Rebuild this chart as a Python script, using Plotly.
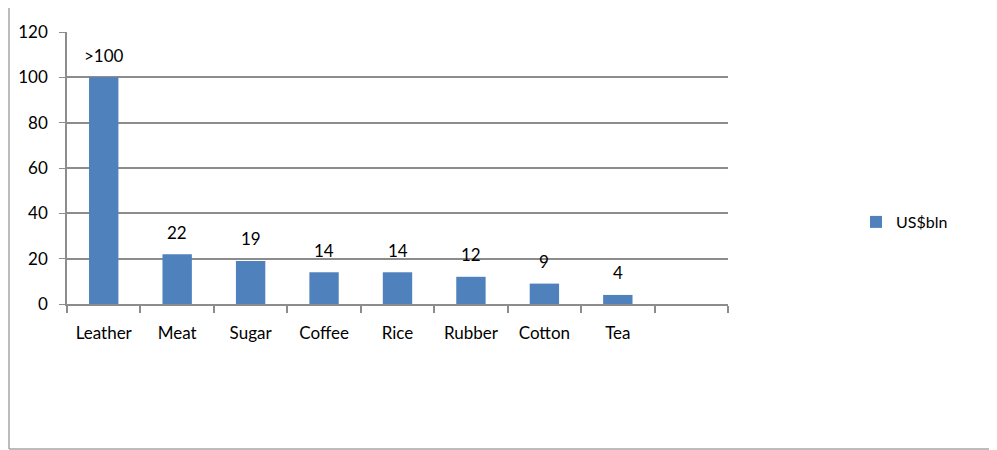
import plotly.graph_objects as go

categories = ["Leather", "Meat", "Sugar", "Coffee", "Rice", "Rubber", "Cotton", "Tea", " "]
values = [100, 22, 19, 14, 14, 12, 9, 4, None]
labels = [">100", "22", "19", "14", "14", "12", "9", "4", ""]
series_name = "US$bln"

FONT = "Lato"
FS = 17
OFF = 8  # page body margin
W, H = 997 - OFF, 450 - OFF
L, T = 67 - OFF, 32 - OFF
PR, PB = 728 - OFF, 304 - OFF  # plot right / bottom in figure px
R, B = W - PR, H - PB
pw, ph = PR - L, PB - T

def px(x):
    return (x - OFF - L) / pw

def py(y):
    return (PB - (y - OFF)) / ph

fig = go.Figure()
fig.add_trace(go.Bar(
    x=categories, y=values, name=series_name,
    marker=dict(color="#4F81BD", line=dict(width=0)),
    width=0.4, showlegend=True,
))

for c, v, t in zip(categories, values, labels):
    if v is None or not t:
        continue
    fig.add_annotation(x=c, y=v, text=t, showarrow=False, yanchor="middle",
                       yshift=22, font=dict(family=FONT, size=FS, color="#000000"))

border = "#a6a6a6"
fig.add_shape(type="line", xref="paper", yref="paper", x0=px(9), x1=px(1100), y0=py(3), y1=py(3),
              line=dict(color=border, width=1.5))
fig.add_shape(type="line", xref="paper", yref="paper", x0=px(9), x1=px(9), y0=py(3), y1=py(449),
              line=dict(color=border, width=1.5))
fig.add_shape(type="line", xref="paper", yref="paper", x0=px(9), x1=px(1100), y0=py(449), y1=py(449),
              line=dict(color=border, width=1.5))

fig.update_layout(
    width=W, height=H,
    margin=dict(l=L, r=R, t=T, b=B, autoexpand=False),
    paper_bgcolor="white", plot_bgcolor="white",
    font=dict(family=FONT, size=FS, color="#000000"),
    bargap=0.6,
    legend=dict(x=px(856), y=py(222), xanchor="left", yanchor="middle",
                font=dict(family=FONT, size=16, color="#000000"),
                itemwidth=30, bgcolor="rgba(0,0,0,0)"),
    xaxis=dict(type="category", categoryorder="array", categoryarray=categories,
               range=[-0.5, 8.5], showgrid=False, showline=True, linecolor="#8c8c8c", linewidth=2,
               ticks="outside", tickson="boundaries", ticklen=7, tickcolor="#8c8c8c", tickwidth=1.5,
               ticklabelstandoff=13,
               tickfont=dict(family=FONT, size=FS), fixedrange=True),
    yaxis=dict(range=[0, 120], dtick=20, showgrid=True, gridcolor="#8c8c8c", gridwidth=1.5,
               showline=True, linecolor="#8c8c8c", linewidth=1.5, zeroline=False,
               ticks="outside", ticklen=6, tickcolor="#8c8c8c", ticklabelstandoff=8,
               tickfont=dict(family=FONT, size=FS), fixedrange=True),
)

fig.write_html("out.html")
